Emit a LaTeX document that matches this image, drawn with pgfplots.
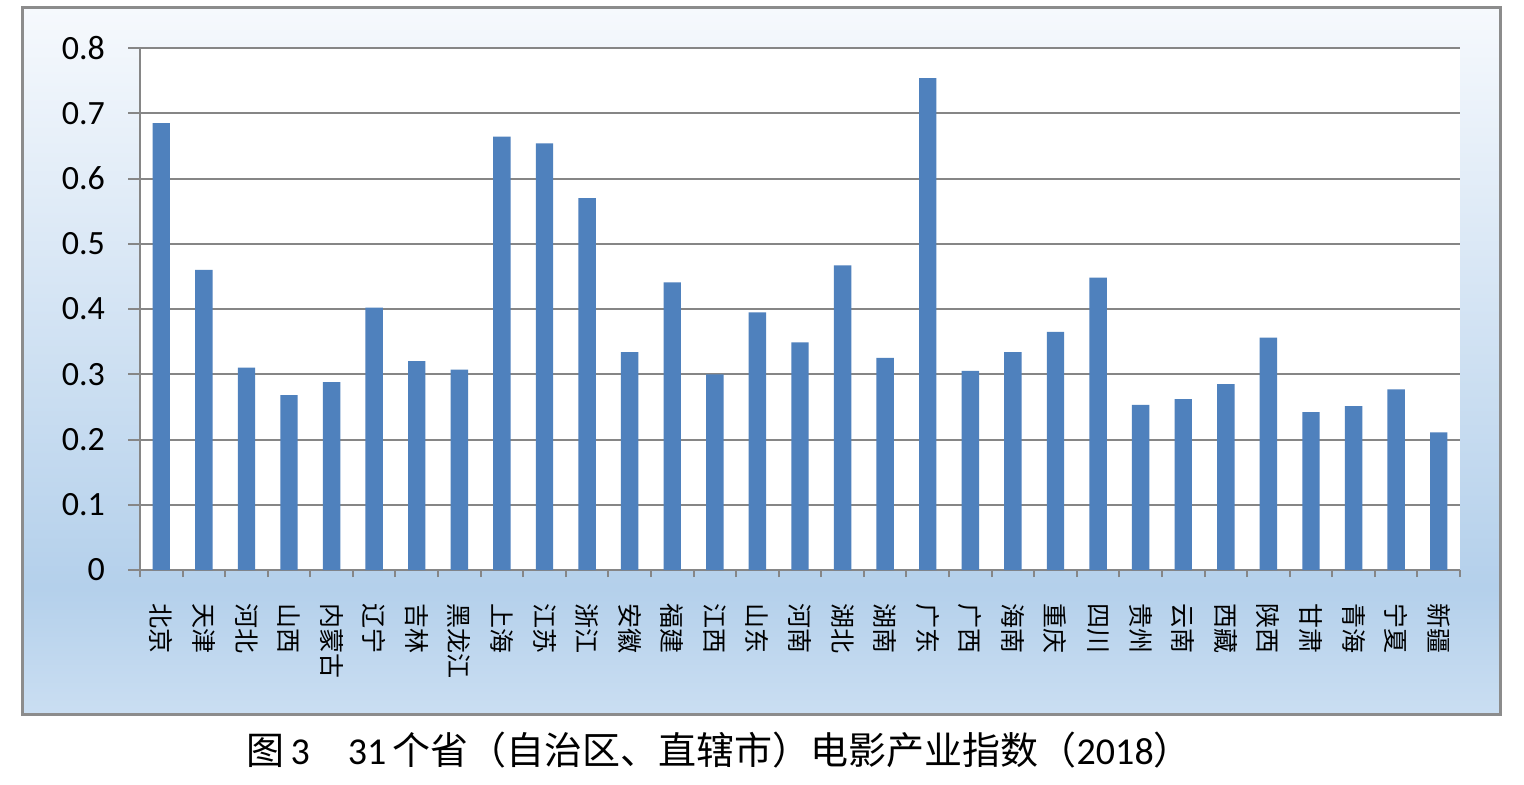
\documentclass[border=0pt]{standalone}
\usepackage{pgfplots}
\pgfplotsset{compat=1.18}
\usepackage{fontspec}
\setmainfont{Carlito}
\newfontfamily\cjk{Noto Sans CJK SC}
\definecolor{barblue}{HTML}{4F81BD}
\definecolor{gridgray}{HTML}{868686}
\definecolor{framegray}{HTML}{8C8C8C}
\definecolor{bgtop}{HTML}{F6F9FD}
\definecolor{bgmid}{HTML}{B4D0EB}
\definecolor{bgbot}{HTML}{CADEF2}
\pgfdeclareverticalshading{chartbg}{100bp}{color(0bp)=(bgbot); color(25bp)=(bgbot); color(34bp)=(bgmid); color(75bp)=(bgtop); color(100bp)=(bgtop)}
\begin{document}
\begin{tikzpicture}[x=1pt,y=1pt]
\useasboundingbox (0,0) rectangle (762,392);
\shade[shading=chartbg] (11,35) rectangle (750,388);
\begin{axis}[
  at={(70pt,107pt)}, anchor=south west,
  scale only axis, width=660pt, height=261pt,
  xmin=-0.5, xmax=30.5, ymin=0, ymax=0.8,
  axis background/.style={fill=white},
  axis lines*=left,
  axis line style={-, draw=gridgray, line width=1pt},
  ytick={0,0.1,...,0.8},
  yticklabels={0,0.1,0.2,0.3,0.4,0.5,0.6,0.7,0.8},
  ymajorgrids=true,
  grid style={draw=gridgray, line width=1pt},
  tick align=outside,
  tick style={draw=gridgray, line width=1pt},
  major tick length=6pt,
  xtick={0,...,30},
  x tick style={draw=none},
  minor xtick={-0.5,0.5,...,30.5},
  minor x tick style={draw=gridgray, line width=1pt},
  minor tick length=3.5pt,
  xticklabels={北京,天津,河北,山西,内蒙古,辽宁,吉林,黑龙江,上海,江苏,浙江,安徽,福建,江西,山东,河南,湖北,湖南,广东,广西,海南,重庆,四川,贵州,云南,西藏,陕西,甘肃,青海,宁夏,新疆},
  xticklabel style={font=\cjk\fontsize{12.5}{14}\selectfont, rotate=-90, anchor=west},
  xticklabel shift=7pt,
  yticklabel style={font=\fontsize{17}{20}\selectfont},
  yticklabel shift=8pt,
  /pgf/number format/assume math mode=true,
]
\addplot[ybar, bar width=8.7pt, fill=barblue, draw=none] coordinates {
(0,0.685) (1,0.460) (2,0.310) (3,0.268) (4,0.288) (5,0.402) (6,0.320) (7,0.307)
(8,0.664) (9,0.654) (10,0.570) (11,0.334) (12,0.441) (13,0.300) (14,0.395) (15,0.349)
(16,0.467) (17,0.325) (18,0.754) (19,0.305) (20,0.334) (21,0.365) (22,0.448) (23,0.253)
(24,0.262) (25,0.285) (26,0.356) (27,0.242) (28,0.251) (29,0.277) (30,0.211)
};
\end{axis}
\draw[draw=framegray, line width=1.5pt] (11,35) rectangle (750,388);
\node[font=\fontsize{19}{22}\selectfont, inner sep=0] at (359.5,17) {{\cjk 图}\,3\quad 31\,{\cjk 个省（自治区、直辖市）电影产业指数（}2018{\cjk ）}};
\end{tikzpicture}
\end{document}
